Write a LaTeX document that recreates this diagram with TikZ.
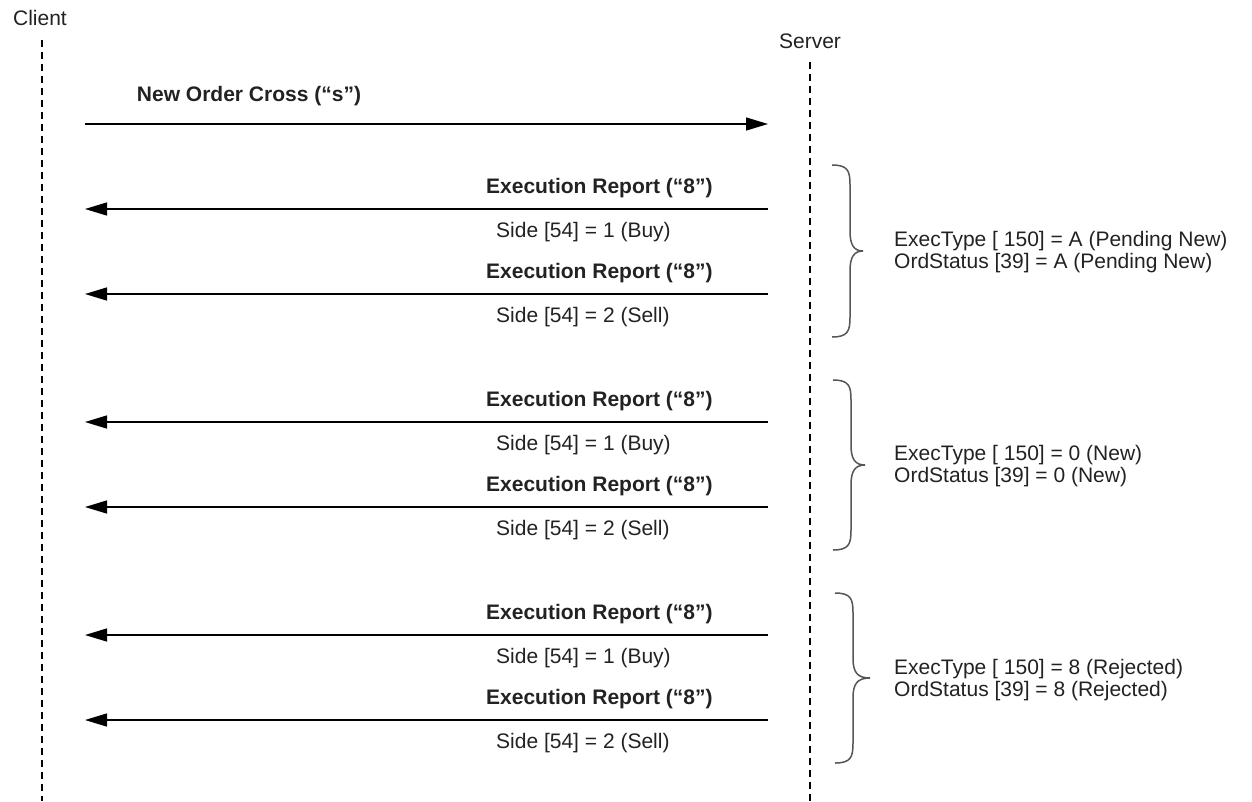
\documentclass[tikz,border=0pt]{standalone}
\usepackage{fontspec}
\setmainfont{Liberation Sans}
\usetikzlibrary{arrows.meta}
\definecolor{txt}{HTML}{222222}
\definecolor{brc}{HTML}{555555}
\tikzset{
  lbl/.style={inner sep=0pt, text=txt, font=\fontsize{21}{22}\selectfont},
  msgb/.style={lbl, font=\fontsize{21}{22}\selectfont\bfseries, anchor=west},
  sidel/.style={lbl, anchor=west},
  life/.style={draw=black, line width=1.3pt, dash pattern=on 7pt off 5pt},
  msg/.style={draw=black, line width=1.4pt, -{Triangle[length=22pt,width=13pt]}},
  brace/.style={draw=brc, line width=1.5pt},
  note/.style={lbl, anchor=west, align=left}
}
\newcommand{\mybrace}[5]{% top, bottom, left, spine, tip
  \pgfmathsetmacro{\mid}{(#1+#2)/2}
  \draw[brace] (#3,#1) .. controls (#4-2,#1) and (#4,#1+6) .. (#4,#1+20)
    -- (#4,\mid-20) .. controls (#4,\mid-6) and (#4+4,\mid) .. (#5,\mid)
    .. controls (#4+4,\mid) and (#4,\mid+6) .. (#4,\mid+20)
    -- (#4,#2-20) .. controls (#4,#2-6) and (#4-2,#2) .. (#3,#2);
}
\begin{document}
\begin{tikzpicture}[x=1pt,y=-1pt]
\useasboundingbox (0,0) rectangle (1252,801);
% lifelines
\node[lbl] (client) at (40,18) {Client};
\node[lbl] (server) at (810,41) {Server};
\coordinate (ctop) at (42,40);
\coordinate (cbot) at (42,801);
\coordinate (stop) at (810,62);
\coordinate (sbot) at (810,801);
\draw[life] (ctop) -- (cbot);
\draw[life] (stop) -- (sbot);
% new order cross
\coordinate (c0) at (85,124);
\coordinate (s0) at (768,124);
\draw[msg] (c0) -- (s0);
\node[lbl, font=\fontsize{21}{22}\selectfont\bfseries] (m0) at (249,96) {New Order Cross (“s”)};
% execution reports
\foreach \i/\y/\side in {1/209/1 (Buy),2/294/2 (Sell),3/422/1 (Buy),4/507/2 (Sell),5/635/1 (Buy),6/720/2 (Sell)}{
  \coordinate (c\i) at (85,\y);
  \coordinate (s\i) at (768,\y);
  \draw[msg] (s\i) -- (c\i);
  \node[msgb] (er\i) at (486,\y-21) {Execution Report (“8”)};
  \node[sidel] (sd\i) at (496,\y+23) {Side [54] = \side};
}
% braces
\mybrace{165}{337}{832}{850}{863}
\mybrace{380}{550}{833}{851}{865}
\mybrace{593}{763}{835}{853}{870}
\node[note] (n1) at (894,252) {ExecType [ 150] = A (Pending New)\\OrdStatus [39] = A (Pending New)};
\node[note] (n2) at (894,466) {ExecType [ 150] = 0 (New)\\OrdStatus [39] = 0 (New)};
\node[note] (n3) at (894,680) {ExecType [ 150] = 8 (Rejected)\\OrdStatus [39] = 8 (Rejected)};
\end{tikzpicture}
\end{document}
